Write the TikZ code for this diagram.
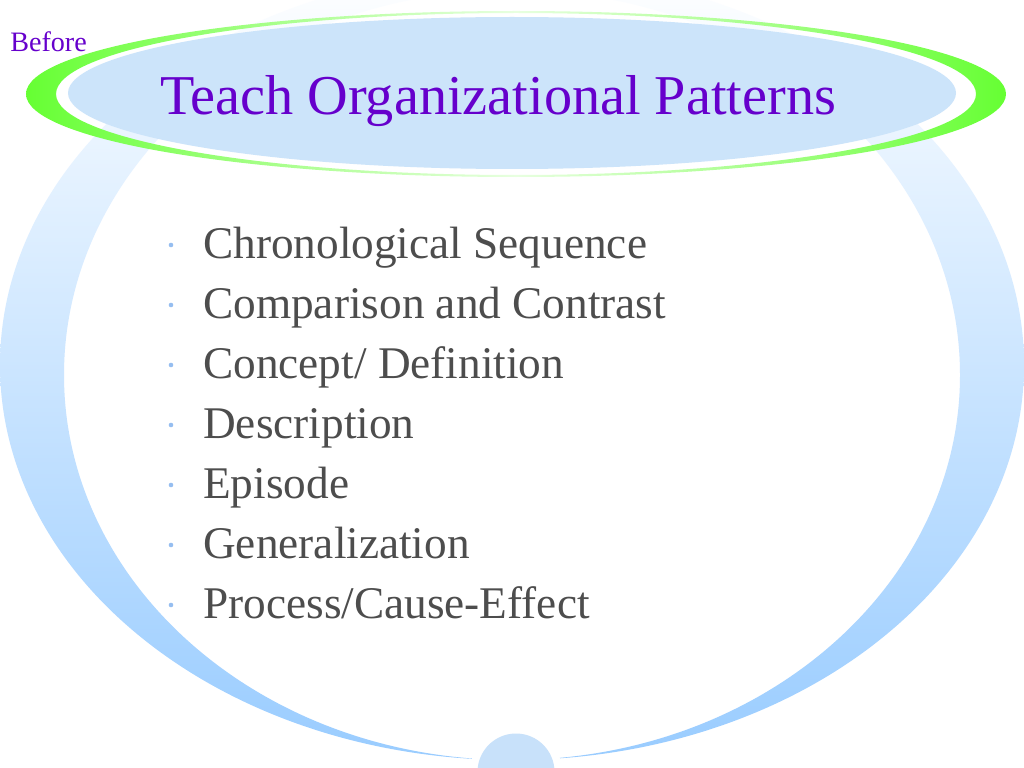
\documentclass[tikz,border=0pt]{standalone}
\usepackage{fontspec}
\setmainfont{Liberation Serif}
\usepackage{tikz}

\definecolor{ringblue}{RGB}{153,204,255}
\definecolor{titlefill}{RGB}{204,228,250}
\definecolor{titlepurple}{RGB}{102,0,204}
\definecolor{itemgray}{RGB}{77,77,77}
\definecolor{dotblue}{RGB}{150,190,240}
\definecolor{ringgreen}{RGB}{102,255,51}
\definecolor{knobblue}{RGB}{200,225,250}

\tikzset{
	item/.style={anchor=base west, inner sep=0pt, text=itemgray, font=\fontsize{32.2}{38}\selectfont},
	bullet/.style={fill=dotblue}
}

\begin{document}
\begin{tikzpicture}[x=0.025cm, y=-0.025cm]
	\clip (0,0) rectangle (1024,768);
	\fill[white] (0,0) rectangle (1024,768);
	% big ring behind the list
	\shade[even odd rule, top color=white, middle color=ringblue!42, bottom color=ringblue]
		(512,365) ellipse(512 and 395) (512,375) ellipse(448 and 385);
	\fill[white] (516,772) circle(46);
	\fill[knobblue] (516,772) circle(38.5);
	% title band
	\shade[even odd rule, left color=ringgreen, right color=ringgreen, middle color=ringgreen!15]
		(516,94) ellipse(490 and 83) (516,94) ellipse(460 and 81);
	\fill[titlefill] (512,93) ellipse(444 and 76);
	\node (title) at (498,115)[anchor=base, inner sep=0pt, text=titlepurple, font=\fontsize{40}{48}\selectfont]{Teach Organizational Patterns};
	\node (before) at (10,52)[anchor=base west, inner sep=0pt, text=titlepurple, font=\fontsize{20}{24}\selectfont]{Before};
	% list
	\fill[bullet] (171,245) circle(2.3);
	\node (chrono) at (203,258)[item]{Chronological Sequence};
	\fill[bullet] (171,305) circle(2.3);
	\node (compare) at (203,318)[item]{Comparison and Contrast};
	\fill[bullet] (171,365) circle(2.3);
	\node (concept) at (203,378)[item]{Concept/ Definition};
	\fill[bullet] (171,425) circle(2.3);
	\node (descr) at (203,438)[item]{Description};
	\fill[bullet] (171,485) circle(2.3);
	\node (episode) at (203,498)[item]{Episode};
	\fill[bullet] (171,545) circle(2.3);
	\node (general) at (203,558)[item]{Generalization};
	\fill[bullet] (171,605) circle(2.3);
	\node (process) at (203,618)[item]{Process/Cause-Effect};
\end{tikzpicture}
\end{document}
